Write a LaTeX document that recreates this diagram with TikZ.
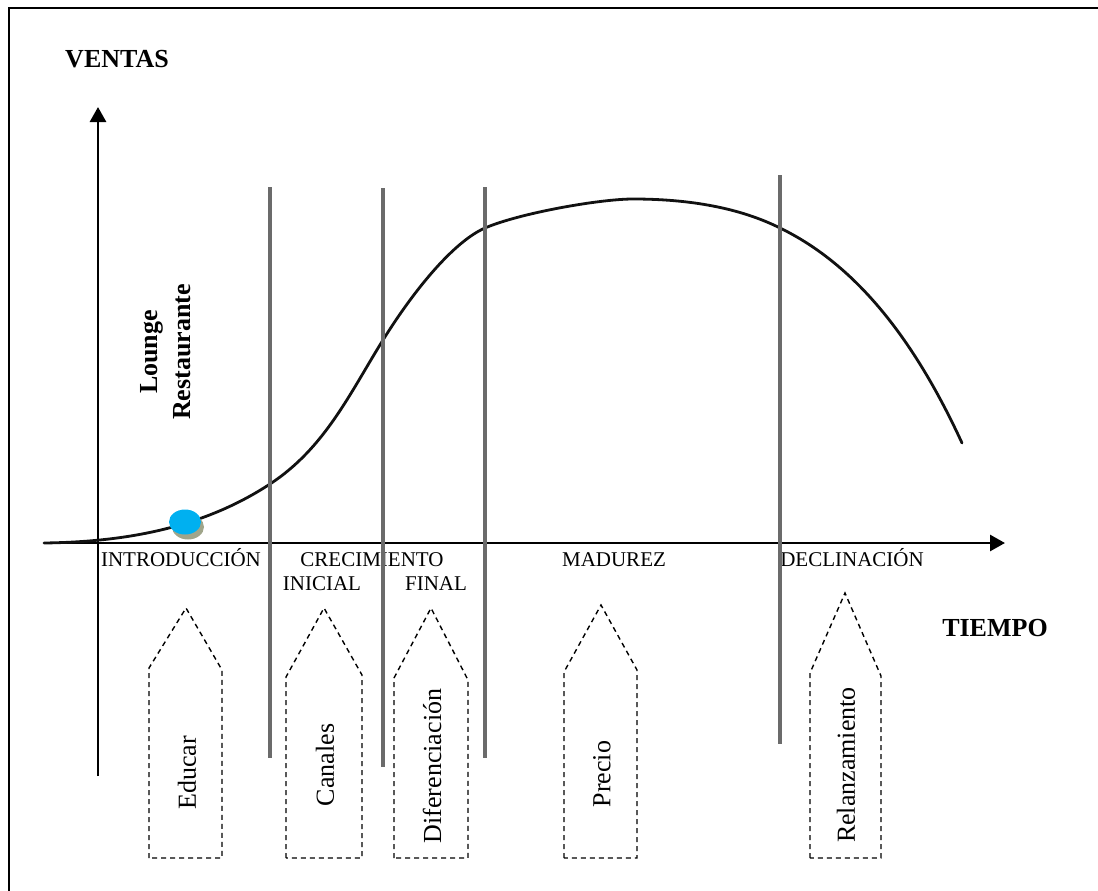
\documentclass[tikz,border=0pt]{standalone}
\usepackage{fontspec}
\setmainfont{Liberation Serif}
\usetikzlibrary{arrows.meta,positioning}
\definecolor{plcink}{HTML}{111111}
\definecolor{plcgrid}{HTML}{6B6B6B}
\definecolor{plcdot}{HTML}{00B0F0}
\definecolor{plcshade}{HTML}{A0A58A}
\tikzset{
  axis/.style={-{Triangle[length=15pt,width=16pt]},line width=2.8pt,draw=black},
  phase/.style={line width=3.2pt,draw=plcgrid},
  stagebox/.style={dash pattern=on 5pt off 4pt,line width=1.4pt,draw=black},
  stagetxt/.style={rotate=90,font=\fontsize{26}{30}\selectfont,inner sep=0pt},
  phaselab/.style={font=\fontsize{21}{24}\selectfont,inner sep=0pt,anchor=base},
  axlab/.style={font=\fontsize{26}{30}\selectfont\bfseries,inner sep=0pt,anchor=base},
}

\begin{document}
\begin{tikzpicture}[x=1pt,y=-1pt,
  salescurve/.style={line width=2.8pt,draw=plcink,line cap=round}]
  \useasboundingbox (0,0) rectangle (1098,891);

  % ---- frame (only top and left edges fall inside the page) ----
  \draw[line width=2.2pt] (1098,8) -- (9,8) -- (9,891);

  % ---- axes ----
  \draw[axis] (98,776) -- (98,107);
  \draw[axis] (44,543) -- (1005,543);
  \node[axlab] (ventas) at (117,68) {VENTAS};
  \node[axlab] (tiempo) at (995,636) {TIEMPO};

  % ---- product ----
  \node[rotate=90,align=center,inner sep=0pt,
        font=\fontsize{26}{33}\selectfont\bfseries] (producto) at (166,352)
    {Lounge\\Restaurante};

  % ---- sales curve ----
  \draw[salescurve] (44,543) .. controls (120,542) and (200,530) .. (270,484)
    .. controls (325,448) and (350,393) .. (383,340)
    .. controls (416,287) and (455,241) .. (485,228)
    .. controls (520,213) and (600,199) .. (633,199)
    .. controls (690,199) and (740,208) .. (780,228)
    .. controls (850,262) and (910,330) .. (962,443);
  \fill[plcshade] (188,527) ellipse (16 and 12.5);
  \fill[plcdot] (185,522) ellipse (16 and 12.5);

  % ---- phase labels ----
  \node[phaselab] (intro) at (181,566) {INTRODUCCIÓN};
  \node[phaselab] (crec) at (372,566) {CRECIMIENTO};
  \node[phaselab] (inicial) at (322,590) {INICIAL};
  \node[phaselab] (final) at (436,590) {FINAL};
  \node[phaselab] (madurez) at (614,566) {MADUREZ};
  \node[phaselab] (declin) at (852,566) {DECLINACIÓN};

  % ---- phase limits ----
  \draw[phase] (270,187) -- (270,758);
  \draw[phase] (383,188) -- (383,767);
  \draw[phase] (485,187) -- (485,758);
  \draw[phase] (780,175) -- (780,744);

  % ---- strategies ----
  \draw[stagebox] (149,858) -- (149,668) -- (186,608) -- (222,670) -- (222,858) -- cycle;
  \node[stagetxt] (educar) at (187,773) {Educar};
  \draw[stagebox] (286,858) -- (286,677) -- (324,608) -- (362,675) -- (362,858) -- cycle;
  \node[stagetxt] (canales) at (325,765) {Canales};
  \draw[stagebox] (394,858) -- (394,678) -- (431,608) -- (468,680) -- (468,858) -- cycle;
  \node[stagetxt] (difer) at (432,766) {Diferenciación};
  \draw[stagebox] (564,858) -- (564,672) -- (601,605) -- (637,670) -- (637,858) -- cycle;
  \node[stagetxt] (precio) at (602,774) {Precio};
  \draw[stagebox] (810,858) -- (810,673) -- (845,593) -- (881,676) -- (881,858) -- cycle;
  \node[stagetxt] (relanz) at (846,765) {Relanzamiento};
\end{tikzpicture}
\end{document}
